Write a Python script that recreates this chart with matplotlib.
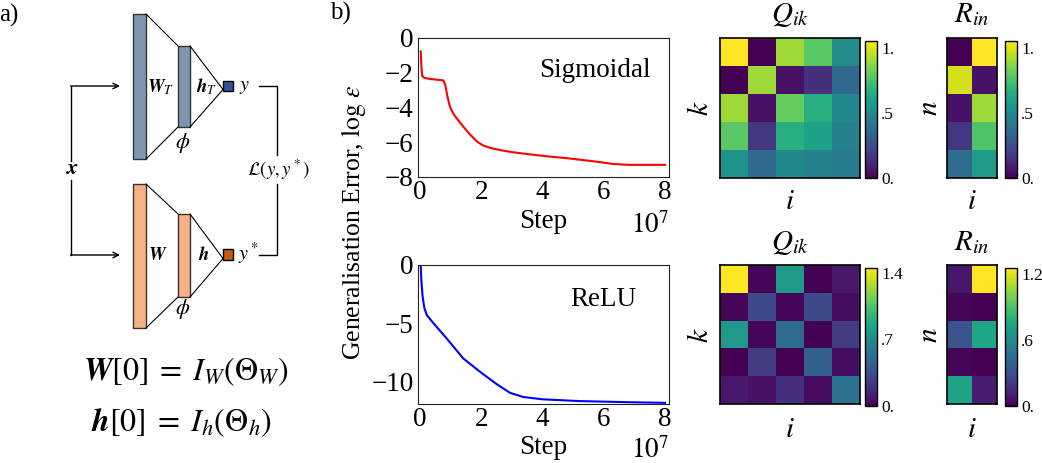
import matplotlib
matplotlib.use("Agg")
import matplotlib.pyplot as plt
import numpy as np
from matplotlib.patches import Rectangle

plt.rcParams['font.family'] = ['Liberation Serif', 'DejaVu Serif']
plt.rcParams['mathtext.fontset'] = 'stix'

# ---------------- data ----------------
sig_x = [0.02, 0.04, 0.07, 0.15, 0.33, 0.55, 0.76, 0.82, 0.89, 0.98, 1.1, 1.25,
         1.41, 1.6, 1.85, 2.05, 2.3, 2.7, 3.05, 3.6, 4.1, 4.8, 5.45, 5.9, 6.3,
         6.8, 7.4, 8.0]
sig_y = [-0.77, -1.6, -2.2, -2.3, -2.36, -2.4, -2.44, -2.7, -3.35, -4.0, -4.4,
         -4.75, -5.1, -5.5, -5.95, -6.18, -6.33, -6.48, -6.58, -6.7, -6.8,
         -6.92, -7.05, -7.15, -7.25, -7.3, -7.3, -7.3]

relu_x = [0.02, 0.04, 0.08, 0.14, 0.22, 0.44, 0.87, 1.41, 1.96, 2.5, 2.94,
          3.37, 4.0, 5.2, 6.85, 8.0]
relu_y = [-0.14, -1.3, -2.7, -3.7, -4.3, -5.0, -6.3, -8.0, -9.15, -10.2,
          -10.95, -11.3, -11.5, -11.65, -11.75, -11.8]

xticks = [0, 2, 4, 6, 8]
sig_yticks = [0, -2, -4, -6, -8]
relu_yticks = [0, -5, -10]

Q_sig = [[1.05, 0.00, 0.90, 0.78, 0.52],
         [0.00, 0.90, 0.05, 0.15, 0.36],
         [0.90, 0.05, 0.80, 0.66, 0.50],
         [0.78, 0.17, 0.66, 0.60, 0.46],
         [0.54, 0.36, 0.50, 0.46, 0.44]]
R_sig = [[0.00, 1.05],
         [0.98, 0.05],
         [0.05, 0.90],
         [0.17, 0.76],
         [0.38, 0.58]]
Q_relu = [[1.45, 0.02, 0.78, 0.00, 0.10],
          [0.02, 0.32, 0.02, 0.32, 0.05],
          [0.78, 0.02, 0.52, 0.00, 0.26],
          [0.00, 0.26, 0.00, 0.45, 0.05],
          [0.10, 0.07, 0.20, 0.05, 0.55]]
R_relu = [[0.08, 1.25],
          [0.02, 0.00],
          [0.32, 0.74],
          [0.02, 0.00],
          [0.72, 0.10]]

cb_ticks_sig = [0, 0.5, 1.0]
cb_labels_sig = ['0.', '.5', '1.']
cb_ticks_Qrelu = [0, 0.7, 1.4]
cb_labels_Qrelu = ['0.', '.7', '1.4']
cb_ticks_Rrelu = [0, 0.6, 1.2]
cb_labels_Rrelu = ['0.', '.6', '1.2']

# ---------------- figure ----------------
W, H = 1042, 463
fig = plt.figure(figsize=(W / 100, H / 100), dpi=100)


def ax_px(l, t, r, b):
    return fig.add_axes([l / W, 1 - b / H, (r - l) / W, (b - t) / H])


def ftext(x, y, s, **kw):
    kw.setdefault('ha', 'center')
    kw.setdefault('va', 'center')
    return fig.text(x / W, 1 - y / H, s, **kw)


# ---------------- panel a: diagram ----------------
axd = ax_px(0, 0, 330, 463)
axd.set_xlim(0, 330)
axd.set_ylim(463, 0)
axd.axis('off')

blue_bar = '#8096b0'
blue_sq = '#2f5597'
org_bar = '#f4b183'
org_sq = '#c55a11'
ec = '#333333'


def network(y_big, y_small, y_sq, cbar, csq):
    axd.add_patch(Rectangle((133, y_big[0]), 13, y_big[1] - y_big[0], fc=cbar, ec=ec, lw=1))
    axd.add_patch(Rectangle((178, y_small[0]), 12, y_small[1] - y_small[0], fc=cbar, ec=ec, lw=1))
    axd.add_patch(Rectangle((223, y_sq[0]), 10, y_sq[1] - y_sq[0], fc=csq, ec='black', lw=1))
    axd.plot([146, 178], [y_big[0], y_small[0]], color='black', lw=0.8)
    axd.plot([146, 178], [y_big[1], y_small[1]], color='black', lw=0.8)
    conv = y_sq[1] - 1.5
    axd.plot([190, 223], [y_small[0], conv], color='black', lw=0.8)
    axd.plot([190, 223], [y_small[1], conv], color='black', lw=0.8)


network((14, 159), (46, 127), (81, 91), blue_bar, blue_sq)
network((184, 328), (214, 297), (249, 260), org_bar, org_sq)

dfs = 13.5
axd.text(161, 87, r'$\mathbfit{W}_T$', ha='center', va='center', fontsize=dfs)
axd.text(207, 87, r'$\mathbfit{h}_T$', ha='center', va='center', fontsize=dfs)
axd.text(245, 86, r'$y$', ha='center', va='center', fontsize=dfs + 1)
axd.text(183, 143, r'$\phi$', ha='center', va='center', fontsize=16)
axd.text(158, 255, r'$\mathbfit{W}$', ha='center', va='center', fontsize=dfs)
axd.text(204, 255, r'$\mathbfit{h}$', ha='center', va='center', fontsize=dfs)
axd.text(248, 254, r'$y^*$', ha='center', va='center', fontsize=dfs + 1)
axd.text(183, 309, r'$\phi$', ha='center', va='center', fontsize=16)
axd.text(72, 170, r'$\mathbfit{x}$', ha='center', va='center', fontsize=16)
axd.text(279, 170, r'$\mathcal{L}(y, y^*)$', ha='center', va='center', fontsize=13.5)

# arrows from x
axd.plot([71, 71], [86, 161], color='black', lw=1)
axd.plot([71, 71], [180, 255], color='black', lw=1)
axd.annotate('', xy=(120, 86), xytext=(70.5, 86),
             arrowprops=dict(arrowstyle='->', color='black', lw=1, shrinkA=0, shrinkB=0))
axd.annotate('', xy=(120, 255), xytext=(70.5, 255),
             arrowprops=dict(arrowstyle='->', color='black', lw=1, shrinkA=0, shrinkB=0))
# loss bracket
axd.plot([259, 277, 277], [86, 86, 155], color='black', lw=1)
axd.plot([259, 277, 277], [255, 255, 184], color='black', lw=1)

axd.text(186, 372, r'$\mathbfit{W}[0]\;=\;I_W(\Theta_W)$', ha='center', va='center', fontsize=23)
axd.text(181, 423, r'$\mathbfit{h}[0]\;=\;I_h(\Theta_h)$', ha='center', va='center', fontsize=23)

ftext(9, 15, 'a)', fontsize=18)
ftext(340, 13, 'b)', fontsize=18)

# ---------------- line plots ----------------
fs = 19.5


def line_panel(ax, x, y, color, yticks, ylim, label, lx, ly):
    ax.plot(x, y, color=color, lw=1.5)
    ax.set_xlim(-0.07, 8.13)
    ax.set_ylim(*ylim)
    ax.set_xticks(xticks)
    ax.set_xticklabels([str(v) for v in xticks])
    ax.set_yticks(yticks)
    ax.set_yticklabels([str(v).replace('-', '\u2212') for v in yticks])
    ax.tick_params(length=0, labelsize=fs, pad=3)
    ax.tick_params(axis='x', pad=2)
    for sp in ax.spines.values():
        sp.set_linewidth(0.8)
        sp.set_color('#222222')
    ax.text(lx, ly, label, transform=ax.transAxes, ha='center', va='center', fontsize=fs)


ax1 = ax_px(418, 38, 669, 177)
line_panel(ax1, sig_x, sig_y, 'red', sig_yticks, (-8, 0), 'Sigmoidal',
           (595 - 418) / 251, 1 - (71 - 38) / 139)
ax2 = ax_px(418, 265, 669, 404)
line_panel(ax2, relu_x, relu_y, 'blue', relu_yticks, (-11.9, 0), 'ReLU',
           (603 - 418) / 251, 1 - (300 - 265) / 139)

ftext(543, 222, 'Step', fontsize=fs)
ftext(650, 226, r'$10^7$', fontsize=fs)
ftext(543, 448, 'Step', fontsize=fs)
ftext(650, 451, r'$10^7$', fontsize=fs)
ftext(354, 222, r'Generalisation Error, $\log\,\epsilon$', fontsize=18.5, rotation=90)

# ---------------- heatmaps ----------------


def heat(box, cbox, data, vmax, ticks, labels):
    ax = ax_px(*box)
    im = ax.imshow(np.array(data), cmap='viridis', vmin=0, vmax=vmax,
                   aspect='auto', interpolation='nearest')
    ax.set_xticks([])
    ax.set_yticks([])
    for sp in ax.spines.values():
        sp.set_linewidth(1.2)
    cax = ax_px(*cbox)
    cb = fig.colorbar(im, cax=cax, ticks=ticks)
    cb.set_ticklabels(labels)
    cb.outline.set_linewidth(1.0)
    cax.tick_params(length=0, pad=3, labelsize=12.5)
    return ax


heat((720, 38, 860, 178), (865, 41, 877, 178), Q_sig, 1.05, cb_ticks_sig, cb_labels_sig)
heat((947, 38, 997, 178), (1005, 41, 1017, 178), R_sig, 1.05, cb_ticks_sig, cb_labels_sig)
heat((720, 265, 860, 404), (865, 268, 877, 406), Q_relu, 1.45, cb_ticks_Qrelu, cb_labels_Qrelu)
heat((947, 265, 997, 404), (1005, 268, 1017, 406), R_relu, 1.25, cb_ticks_Rrelu, cb_labels_Rrelu)

hfs = 21
for yt, yl, yi in [(15, 108, 202), (243, 335, 430)]:
    ftext(790, yt, r'$Q_{ik}$', fontsize=hfs)
    ftext(972, yt, r'$R_{in}$', fontsize=hfs)
    ftext(701, yl, r'$k$', fontsize=hfs, rotation=90)
    ftext(930, yl, r'$n$', fontsize=hfs, rotation=90)
    ftext(790, yi, r'$i$', fontsize=hfs)
    ftext(972, yi, r'$i$', fontsize=hfs)

fig.savefig('out.png', dpi=100)
